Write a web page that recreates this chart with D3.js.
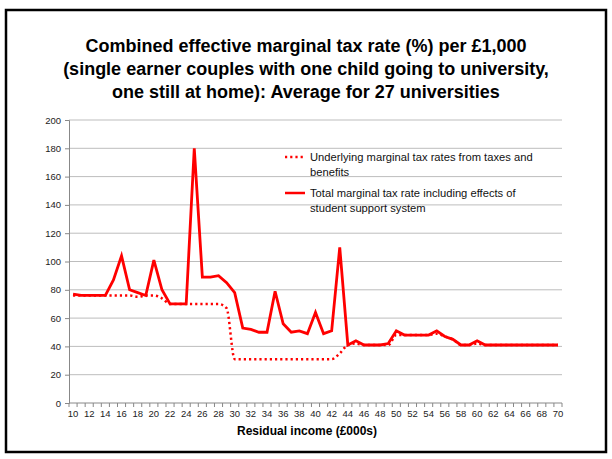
<!DOCTYPE html>
<html>
<head>
<meta charset="utf-8">
<script src="https://cdn.jsdelivr.net/npm/d3@7"></script>
<style>
  html, body { margin: 0; padding: 0; background: #fff; }
  svg { display: block; font-family: "Liberation Sans", Arial, sans-serif; }
</style>
</head>
<body>
<svg id="chart" width="612" height="459"></svg>
<script>
// Residual income bands (£000s)
const incomes = [10,11,12,13,14,15,16,17,18,19,20,21,22,23,24,25,26,27,28,29,30,
                 31,32,33,34,35,36,37,38,39,40,41,42,43,44,45,46,47,48,49,50,
                 51,52,53,54,55,56,57,58,59,60,61,62,63,64,65,66,67,68,69,70];

// Underlying marginal tax rates from taxes and benefits (%)
const underlying = [76,76,76,76,76,76,76,76,75,76,76,74,70,70,70,70,70,70,70,67,31,
                    31,31,31,31,31,31,31,31,31,31,31,31,35,41,42,41,41,41,41,48,
                    48,48,48,48,49,47,45,41,41,42,41,41,41,41,41,41,41,41,41,41];

// Total marginal tax rate including student support effects (%)
const total = [77,76,76,76,76,87,104,80,78,76,101,80,70,70,70,180,89,89,90,85,78,
               53,52,50,50,79,56,50,51,49,64,49,51,110,41,44,41,41,41,42,51,
               48,48,48,48,51,47,45,41,41,44,41,41,41,41,41,41,41,41,41,41];

const yTicks = [0,20,40,60,80,100,120,140,160,180,200];
const xLabels = [10,12,14,16,18,20,22,24,26,28,30,32,34,36,38,40,42,44,46,48,50,
                 52,54,56,58,60,62,64,66,68,70];

const titleLines = [
  "Combined effective marginal tax rate (%) per £1,000",
  "(single earner couples with one child going to university,",
  "one still at home): Average for 27 universities"
];
const legendItems = [
  { lines: ["Underlying marginal tax rates from taxes and", "benefits"], dash: "2.2,3" },
  { lines: ["Total marginal tax rate including effects of", "student support system"], dash: null }
];

const svg = d3.select("#chart");
const plot = { left: 69, right: 562, top: 120, bottom: 403 };
const red = "#ff0000";

// outer frame
svg.append("rect")
  .attr("x", 6).attr("y", 10).attr("width", 600).attr("height", 442)
  .attr("fill", "#fff").attr("stroke", "#000").attr("stroke-width", 2.5);

// title
svg.append("g").selectAll("text").data(titleLines).join("text")
  .attr("x", 306).attr("y", (d, i) => 52 + i * 23)
  .attr("text-anchor", "middle")
  .attr("font-size", 18).attr("font-weight", "bold").attr("fill", "#000")
  .text(d => d);

const x = d3.scaleBand().domain(incomes).range([plot.left, plot.right]).padding(0);
const cx = v => x(v) + x.bandwidth() / 2;
const y = d3.scaleLinear().domain([0, 200]).range([plot.bottom, plot.top]);

// horizontal gridlines
svg.append("g").selectAll("line").data(yTicks.filter(t => t > 0)).join("line")
  .attr("x1", plot.left).attr("x2", plot.right)
  .attr("y1", d => y(d)).attr("y2", d => y(d))
  .attr("stroke", "#bdbdbd").attr("stroke-width", 1);

// y axis
const yAxis = svg.append("g")
  .attr("transform", `translate(${plot.left},0)`)
  .call(d3.axisLeft(y).tickValues(yTicks).tickSize(4).tickPadding(4));
yAxis.select(".domain").attr("stroke", "#888");
yAxis.selectAll(".tick line").attr("stroke", "#888");
yAxis.selectAll(".tick text").attr("font-size", 9.5).attr("fill", "#222")
  .attr("font-family", "Liberation Sans, Arial, sans-serif");

// x axis: labels every other category, tick marks between categories
const xAxis = svg.append("g")
  .attr("transform", `translate(0,${plot.bottom})`)
  .call(d3.axisBottom(x).tickValues(xLabels).tickSize(0).tickPadding(7));
xAxis.select(".domain").remove();
xAxis.selectAll(".tick text").attr("font-size", 9.5).attr("fill", "#222")
  .attr("font-family", "Liberation Sans, Arial, sans-serif");
const bounds = incomes.map(v => x(v)).concat([x(incomes[incomes.length - 1]) + x.bandwidth()]);
svg.append("g").selectAll("line").data(bounds).join("line")
  .attr("x1", d => d).attr("x2", d => d)
  .attr("y1", plot.bottom).attr("y2", plot.bottom + 4)
  .attr("stroke", "#888");
svg.append("line")
  .attr("x1", plot.left).attr("x2", plot.right)
  .attr("y1", plot.bottom).attr("y2", plot.bottom)
  .attr("stroke", "#888");

svg.append("text")
  .attr("x", 307).attr("y", 435)
  .attr("text-anchor", "middle")
  .attr("font-size", 12).attr("font-weight", "bold").attr("fill", "#000")
  .text("Residual income (£000s)");

// series
const underlyingLine = d3.line()
  .x((d, i) => cx(incomes[i])).y(d => y(d))
  .curve(d3.curveMonotoneX);
const totalLine = d3.line()
  .x((d, i) => cx(incomes[i])).y(d => y(d));

svg.append("path").datum(underlying)
  .attr("d", underlyingLine).attr("fill", "none")
  .attr("stroke", red).attr("stroke-width", 2.5)
  .attr("stroke-dasharray", "2.2,3");
svg.append("path").datum(total)
  .attr("d", totalLine).attr("fill", "none")
  .attr("stroke", red).attr("stroke-width", 2.8)
  .attr("stroke-linejoin", "miter");

// legend
const leg = svg.append("g");
legendItems.forEach((item, i) => {
  const ly = 157 + i * 36;
  leg.append("line")
    .attr("x1", 285).attr("x2", 305).attr("y1", ly).attr("y2", ly)
    .attr("stroke", red).attr("stroke-width", 2.5)
    .attr("stroke-dasharray", item.dash);
  leg.append("g").selectAll("text").data(item.lines).join("text")
    .attr("x", 310).attr("y", (d, j) => ly + 4 + j * 14.5)
    .attr("font-size", 11.2).attr("fill", "#111")
    .text(d => d);
});
</script>
</body>
</html>
